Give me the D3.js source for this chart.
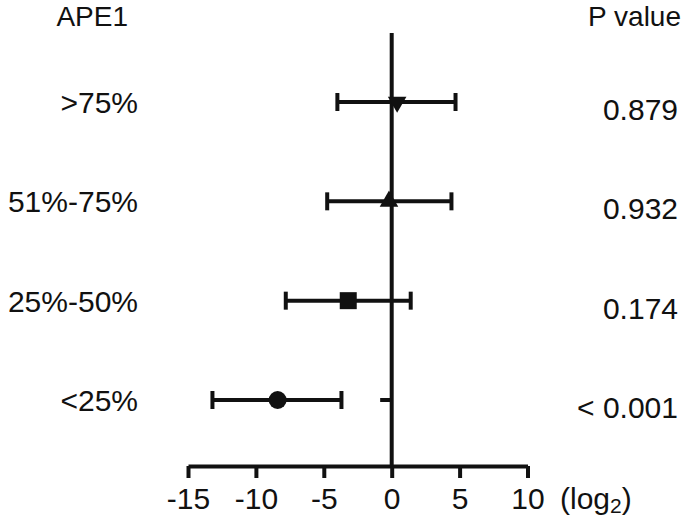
<!DOCTYPE html>
<html>
<head>
<meta charset="utf-8">
<script src="https://cdn.jsdelivr.net/npm/d3@7"></script>
<style>
  body { margin: 0; background: #fff; }
  svg { display: block; }
  text { font-family: "Liberation Sans", Arial, sans-serif; fill: #111; }
</style>
</head>
<body>
<svg></svg>
<script>
// groups, estimates (log2) and 95% CI, p values
const groups = [">75%", "51%-75%", "25%-50%", "<25%"];
const estimates = [0.4, -0.2, -3.2, -8.4];
const lower = [-4.0, -4.75, -7.8, -13.2];
const upper = [4.7, 4.4, 1.4, -3.7];
const pValues = ["0.879", "0.932", "0.174", "< 0.001"];
const markers = ["triangleDown", "triangle", "square", "circle"];
const xTicks = [-15, -10, -5, 0, 5, 10];
const stub = [-0.85, 0]; // short mark left of the zero line on the last row

const width = 685, height = 517;
const svg = d3.select("svg").attr("width", width).attr("height", height);

const x = d3.scaleLinear().domain([-15, 10]).range([188, 527.5]);
const y = d3.scalePoint().domain(groups).range([102, 400]);
const axisY = 466;
const fs = 30;

// x axis
const xAxis = svg.append("g")
    .attr("transform", "translate(0," + axisY + ")")
    .call(d3.axisBottom(x).tickValues(xTicks).tickFormat(d => String(d))
        .tickSize(12).tickSizeOuter(0).tickPadding(10));
xAxis.select(".domain").attr("stroke", "#111").attr("stroke-width", 4);
xAxis.selectAll(".tick line").attr("stroke", "#111").attr("stroke-width", 4);
xAxis.selectAll(".tick text")
    .attr("font-size", fs)
    .attr("font-family", "Liberation Sans, Arial, sans-serif")
    .attr("fill", "#111");

const unit = svg.append("text")
    .attr("x", 560).attr("y", 509)
    .attr("font-size", fs);
unit.append("tspan").text("(log");
unit.append("tspan").attr("dy", 4).attr("font-size", 21).text("2");
unit.append("tspan").attr("dy", -4).text(")");

// zero line
svg.append("line")
    .attr("x1", x(0)).attr("x2", x(0))
    .attr("y1", 33).attr("y2", axisY)
    .attr("stroke", "#111").attr("stroke-width", 4);

svg.append("line")
    .attr("x1", x(stub[0])).attr("x2", x(stub[1]))
    .attr("y1", y(groups[3])).attr("y2", y(groups[3]))
    .attr("stroke", "#111").attr("stroke-width", 4);

// error bars
const rows = svg.selectAll(".row")
    .data(groups.map((g, i) => ({g, est: estimates[i], lo: lower[i], hi: upper[i], p: pValues[i], m: markers[i]})))
    .enter().append("g")
    .attr("class", "row");

rows.append("line")
    .attr("x1", d => x(d.lo)).attr("x2", d => x(d.hi))
    .attr("y1", d => y(d.g)).attr("y2", d => y(d.g))
    .attr("stroke", "#111").attr("stroke-width", 4);

rows.each(function(d) {
    const sel = d3.select(this);
    [d.lo, d.hi].forEach(v => {
        sel.append("line")
            .attr("x1", x(v)).attr("x2", x(v))
            .attr("y1", y(d.g) - 9).attr("y2", y(d.g) + 9)
            .attr("stroke", "#111").attr("stroke-width", 4);
    });
});

const symbolFor = {
    triangle: d3.symbol().type(d3.symbolTriangle).size(150),
    triangleDown: d3.symbol().type(d3.symbolTriangle).size(150),
    square: d3.symbol().type(d3.symbolSquare).size(289),
    circle: d3.symbol().type(d3.symbolCircle).size(254)
};

rows.append("path")
    .attr("d", d => symbolFor[d.m]())
    .attr("transform", d => "translate(" + x(d.est) + "," + y(d.g) + ")" + (d.m === "triangleDown" ? " rotate(180)" : ""))
    .attr("fill", "#111");

// labels
rows.append("text")
    .attr("x", 138)
    .attr("y", d => y(d.g) + 11)
    .attr("text-anchor", "end")
    .attr("font-size", fs)
    .text(d => d.g);

rows.append("text")
    .attr("x", 678)
    .attr("y", d => y(d.g) + 18)
    .attr("text-anchor", "end")
    .attr("font-size", fs)
    .text(d => d.p);

// headers
svg.append("text")
    .attr("x", 128).attr("y", 26)
    .attr("text-anchor", "end")
    .attr("font-size", 28)
    .text("APE1");

svg.append("text")
    .attr("x", 681).attr("y", 26)
    .attr("text-anchor", "end")
    .attr("font-size", 28)
    .text("P value");
</script>
</body>
</html>
